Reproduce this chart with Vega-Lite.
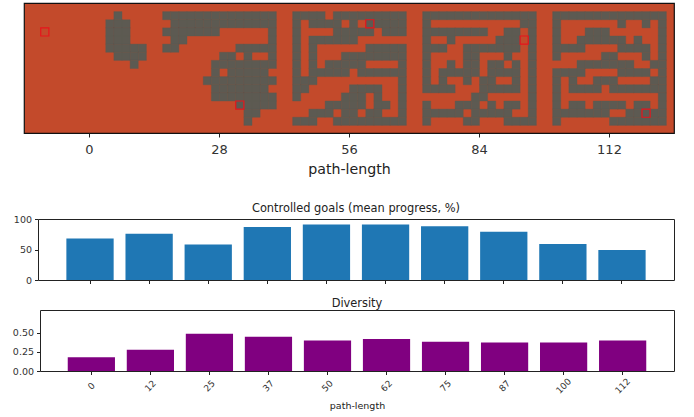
{"$schema":"https://vega.github.io/schema/vega-lite/v6.json","background":"white","padding":{"left":12,"top":2,"right":21,"bottom":4},"autosize":{"type":"pad"},
"config":{"font":"DejaVu Sans","axis":{"grid":false,"domain":false,"tickColor":"#222","labelColor":"#333","titleColor":"#222","titleFontWeight":"normal","domainColor":"#222"},"view":{"stroke":"#222"},"title":{"fontWeight":"normal","color":"#222"}},
"datasets":{"walls":[
{"c":11,"r":1},{"c":17,"r":1},{"c":18,"r":1},{"c":19,"r":1},{"c":20,"r":1},{"c":21,"r":1},{"c":22,"r":1},{"c":23,"r":1},{"c":24,"r":1},{"c":25,"r":1},{"c":26,"r":1},{"c":27,"r":1},{"c":28,"r":1},{"c":29,"r":1},{"c":30,"r":1},{"c":33,"r":1},{"c":34,"r":1},{"c":35,"r":1},{"c":36,"r":1},{"c":38,"r":1},{"c":39,"r":1},{"c":40,"r":1},{"c":41,"r":1},{"c":42,"r":1},{"c":43,"r":1},{"c":44,"r":1},{"c":45,"r":1},{"c":46,"r":1},{"c":49,"r":1},{"c":50,"r":1},{"c":51,"r":1},{"c":52,"r":1},{"c":53,"r":1},{"c":54,"r":1},{"c":55,"r":1},{"c":56,"r":1},{"c":57,"r":1},{"c":58,"r":1},{"c":59,"r":1},{"c":60,"r":1},{"c":61,"r":1},{"c":62,"r":1},{"c":65,"r":1},{"c":66,"r":1},{"c":67,"r":1},{"c":68,"r":1},{"c":69,"r":1},{"c":70,"r":1},{"c":71,"r":1},{"c":72,"r":1},{"c":73,"r":1},{"c":74,"r":1},{"c":75,"r":1},{"c":76,"r":1},{"c":77,"r":1},{"c":78,"r":1},
{"c":10,"r":2},{"c":11,"r":2},{"c":12,"r":2},{"c":18,"r":2},{"c":19,"r":2},{"c":20,"r":2},{"c":21,"r":2},{"c":22,"r":2},{"c":23,"r":2},{"c":24,"r":2},{"c":25,"r":2},{"c":26,"r":2},{"c":27,"r":2},{"c":28,"r":2},{"c":29,"r":2},{"c":30,"r":2},{"c":33,"r":2},{"c":35,"r":2},{"c":36,"r":2},{"c":37,"r":2},{"c":38,"r":2},{"c":40,"r":2},{"c":42,"r":2},{"c":43,"r":2},{"c":44,"r":2},{"c":45,"r":2},{"c":46,"r":2},{"c":49,"r":2},{"c":61,"r":2},{"c":62,"r":2},{"c":65,"r":2},{"c":73,"r":2},{"c":76,"r":2},{"c":78,"r":2},
{"c":10,"r":3},{"c":11,"r":3},{"c":12,"r":3},{"c":17,"r":3},{"c":18,"r":3},{"c":19,"r":3},{"c":20,"r":3},{"c":21,"r":3},{"c":22,"r":3},{"c":23,"r":3},{"c":30,"r":3},{"c":33,"r":3},{"c":38,"r":3},{"c":39,"r":3},{"c":40,"r":3},{"c":41,"r":3},{"c":42,"r":3},{"c":44,"r":3},{"c":45,"r":3},{"c":46,"r":3},{"c":49,"r":3},{"c":50,"r":3},{"c":51,"r":3},{"c":52,"r":3},{"c":53,"r":3},{"c":54,"r":3},{"c":55,"r":3},{"c":56,"r":3},{"c":59,"r":3},{"c":60,"r":3},{"c":62,"r":3},{"c":65,"r":3},{"c":69,"r":3},{"c":70,"r":3},{"c":71,"r":3},{"c":78,"r":3},
{"c":10,"r":4},{"c":11,"r":4},{"c":12,"r":4},{"c":18,"r":4},{"c":19,"r":4},{"c":30,"r":4},{"c":33,"r":4},{"c":35,"r":4},{"c":36,"r":4},{"c":37,"r":4},{"c":38,"r":4},{"c":39,"r":4},{"c":40,"r":4},{"c":49,"r":4},{"c":52,"r":4},{"c":58,"r":4},{"c":59,"r":4},{"c":60,"r":4},{"c":62,"r":4},{"c":65,"r":4},{"c":68,"r":4},{"c":69,"r":4},{"c":70,"r":4},{"c":71,"r":4},{"c":72,"r":4},{"c":73,"r":4},{"c":75,"r":4},{"c":78,"r":4},
{"c":10,"r":5},{"c":11,"r":5},{"c":12,"r":5},{"c":13,"r":5},{"c":14,"r":5},{"c":17,"r":5},{"c":18,"r":5},{"c":26,"r":5},{"c":27,"r":5},{"c":28,"r":5},{"c":29,"r":5},{"c":30,"r":5},{"c":33,"r":5},{"c":35,"r":5},{"c":42,"r":5},{"c":43,"r":5},{"c":44,"r":5},{"c":45,"r":5},{"c":46,"r":5},{"c":49,"r":5},{"c":50,"r":5},{"c":51,"r":5},{"c":54,"r":5},{"c":55,"r":5},{"c":56,"r":5},{"c":57,"r":5},{"c":58,"r":5},{"c":59,"r":5},{"c":60,"r":5},{"c":62,"r":5},{"c":65,"r":5},{"c":66,"r":5},{"c":67,"r":5},{"c":68,"r":5},{"c":73,"r":5},{"c":74,"r":5},{"c":75,"r":5},{"c":76,"r":5},{"c":78,"r":5},
{"c":11,"r":6},{"c":12,"r":6},{"c":13,"r":6},{"c":14,"r":6},{"c":24,"r":6},{"c":25,"r":6},{"c":27,"r":6},{"c":30,"r":6},{"c":33,"r":6},{"c":35,"r":6},{"c":39,"r":6},{"c":40,"r":6},{"c":41,"r":6},{"c":42,"r":6},{"c":43,"r":6},{"c":44,"r":6},{"c":45,"r":6},{"c":46,"r":6},{"c":49,"r":6},{"c":54,"r":6},{"c":55,"r":6},{"c":59,"r":6},{"c":62,"r":6},{"c":65,"r":6},{"c":71,"r":6},{"c":72,"r":6},{"c":76,"r":6},{"c":78,"r":6},
{"c":13,"r":7},{"c":23,"r":7},{"c":24,"r":7},{"c":25,"r":7},{"c":26,"r":7},{"c":27,"r":7},{"c":28,"r":7},{"c":29,"r":7},{"c":30,"r":7},{"c":33,"r":7},{"c":35,"r":7},{"c":37,"r":7},{"c":38,"r":7},{"c":39,"r":7},{"c":40,"r":7},{"c":41,"r":7},{"c":46,"r":7},{"c":49,"r":7},{"c":52,"r":7},{"c":54,"r":7},{"c":55,"r":7},{"c":57,"r":7},{"c":58,"r":7},{"c":60,"r":7},{"c":62,"r":7},{"c":68,"r":7},{"c":69,"r":7},{"c":70,"r":7},{"c":71,"r":7},{"c":72,"r":7},{"c":73,"r":7},{"c":74,"r":7},{"c":77,"r":7},{"c":78,"r":7},
{"c":23,"r":8},{"c":25,"r":8},{"c":26,"r":8},{"c":27,"r":8},{"c":28,"r":8},{"c":29,"r":8},{"c":33,"r":8},{"c":35,"r":8},{"c":36,"r":8},{"c":37,"r":8},{"c":38,"r":8},{"c":39,"r":8},{"c":41,"r":8},{"c":42,"r":8},{"c":43,"r":8},{"c":44,"r":8},{"c":45,"r":8},{"c":46,"r":8},{"c":49,"r":8},{"c":51,"r":8},{"c":52,"r":8},{"c":53,"r":8},{"c":54,"r":8},{"c":55,"r":8},{"c":57,"r":8},{"c":58,"r":8},{"c":59,"r":8},{"c":60,"r":8},{"c":62,"r":8},{"c":65,"r":8},{"c":66,"r":8},{"c":67,"r":8},{"c":68,"r":8},{"c":73,"r":8},{"c":74,"r":8},{"c":75,"r":8},{"c":76,"r":8},{"c":78,"r":8},
{"c":22,"r":9},{"c":23,"r":9},{"c":24,"r":9},{"c":25,"r":9},{"c":26,"r":9},{"c":27,"r":9},{"c":28,"r":9},{"c":29,"r":9},{"c":30,"r":9},{"c":33,"r":9},{"c":34,"r":9},{"c":35,"r":9},{"c":46,"r":9},{"c":49,"r":9},{"c":51,"r":9},{"c":54,"r":9},{"c":56,"r":9},{"c":57,"r":9},{"c":60,"r":9},{"c":62,"r":9},{"c":65,"r":9},{"c":67,"r":9},{"c":70,"r":9},{"c":71,"r":9},{"c":72,"r":9},{"c":77,"r":9},{"c":78,"r":9},
{"c":23,"r":10},{"c":24,"r":10},{"c":25,"r":10},{"c":26,"r":10},{"c":27,"r":10},{"c":28,"r":10},{"c":29,"r":10},{"c":33,"r":10},{"c":34,"r":10},{"c":40,"r":10},{"c":41,"r":10},{"c":42,"r":10},{"c":43,"r":10},{"c":46,"r":10},{"c":49,"r":10},{"c":50,"r":10},{"c":51,"r":10},{"c":52,"r":10},{"c":56,"r":10},{"c":57,"r":10},{"c":58,"r":10},{"c":59,"r":10},{"c":60,"r":10},{"c":62,"r":10},{"c":65,"r":10},{"c":67,"r":10},{"c":68,"r":10},{"c":69,"r":10},{"c":70,"r":10},{"c":72,"r":10},{"c":73,"r":10},{"c":74,"r":10},{"c":75,"r":10},{"c":76,"r":10},{"c":77,"r":10},{"c":78,"r":10},
{"c":23,"r":11},{"c":24,"r":11},{"c":25,"r":11},{"c":26,"r":11},{"c":27,"r":11},{"c":28,"r":11},{"c":29,"r":11},{"c":30,"r":11},{"c":33,"r":11},{"c":39,"r":11},{"c":40,"r":11},{"c":41,"r":11},{"c":43,"r":11},{"c":46,"r":11},{"c":55,"r":11},{"c":56,"r":11},{"c":62,"r":11},{"c":65,"r":11},{"c":78,"r":11},
{"c":26,"r":12},{"c":27,"r":12},{"c":28,"r":12},{"c":29,"r":12},{"c":30,"r":12},{"c":37,"r":12},{"c":38,"r":12},{"c":39,"r":12},{"c":40,"r":12},{"c":41,"r":12},{"c":43,"r":12},{"c":44,"r":12},{"c":46,"r":12},{"c":49,"r":12},{"c":53,"r":12},{"c":54,"r":12},{"c":55,"r":12},{"c":57,"r":12},{"c":59,"r":12},{"c":60,"r":12},{"c":62,"r":12},{"c":65,"r":12},{"c":67,"r":12},{"c":68,"r":12},{"c":70,"r":12},{"c":71,"r":12},{"c":72,"r":12},{"c":73,"r":12},{"c":75,"r":12},{"c":76,"r":12},{"c":78,"r":12},
{"c":27,"r":13},{"c":28,"r":13},{"c":35,"r":13},{"c":36,"r":13},{"c":37,"r":13},{"c":39,"r":13},{"c":40,"r":13},{"c":42,"r":13},{"c":43,"r":13},{"c":46,"r":13},{"c":49,"r":13},{"c":50,"r":13},{"c":51,"r":13},{"c":52,"r":13},{"c":53,"r":13},{"c":55,"r":13},{"c":56,"r":13},{"c":57,"r":13},{"c":58,"r":13},{"c":59,"r":13},{"c":62,"r":13},{"c":65,"r":13},{"c":66,"r":13},{"c":67,"r":13},{"c":68,"r":13},{"c":69,"r":13},{"c":70,"r":13},{"c":71,"r":13},{"c":74,"r":13},{"c":75,"r":13},{"c":76,"r":13},{"c":77,"r":13},{"c":78,"r":13},
{"c":27,"r":14},{"c":33,"r":14},{"c":34,"r":14},{"c":35,"r":14},{"c":38,"r":14},{"c":39,"r":14},{"c":40,"r":14},{"c":41,"r":14},{"c":42,"r":14},{"c":43,"r":14},{"c":44,"r":14},{"c":45,"r":14},{"c":46,"r":14},{"c":49,"r":14},{"c":54,"r":14},{"c":55,"r":14},{"c":59,"r":14},{"c":60,"r":14},{"c":61,"r":14},{"c":62,"r":14},{"c":65,"r":14},{"c":72,"r":14},{"c":73,"r":14},{"c":74,"r":14},{"c":75,"r":14},{"c":76,"r":14},{"c":77,"r":14},{"c":78,"r":14}
],
"markers":[{"c":2,"r":3},{"c":26,"r":12},{"c":42,"r":2},{"c":61,"r":4},{"c":76,"r":13}],
"goals":[{"p":"0","v":68},{"p":"12","v":76},{"p":"25","v":58},{"p":"37","v":87},{"p":"50","v":91},{"p":"62","v":91},{"p":"75","v":88},{"p":"87","v":79},{"p":"100","v":59},{"p":"112","v":49}],
"diversity":[{"p":"0","v":0.18},{"p":"12","v":0.28},{"p":"25","v":0.49},{"p":"37","v":0.45},{"p":"50","v":0.4},{"p":"62","v":0.42},{"p":"75","v":0.385},{"p":"87","v":0.375},{"p":"100","v":0.375},{"p":"112","v":0.4}]},
"spacing":25,
"vconcat":[
{"width":650,"height":130,"view":{"fill":"#c34a2b","stroke":"#111","strokeWidth":1.2},
"layer":[
{"data":{"name":"walls"},"mark":{"type":"rect","fill":"#5d5a52","stroke":"#5d5a52","strokeWidth":0.4},"encoding":{
"x":{"field":"c","type":"quantitative","bin":{"step":1,"extent":[0,80]},"scale":{"domain":[0,80]},"axis":{"values":[8,24,40,56,72],"labelExpr":"(datum.value-8)*1.75","title":"path-length","labelFontSize":13,"titleFontSize":14.2,"tickSize":4,"labelPadding":6,"titlePadding":6,"labelFlush":false,"labelOverlap":false}},
"y":{"field":"r","type":"quantitative","bin":{"step":1,"extent":[0,16]},"scale":{"domain":[0,16],"reverse":true},"axis":null}}},
{"data":{"name":"markers"},"mark":{"type":"rect","fill":null,"stroke":"#e8151c","strokeWidth":1.2},"encoding":{
"x":{"field":"c","type":"quantitative","bin":{"step":1,"extent":[0,80]}},
"y":{"field":"r","type":"quantitative","bin":{"step":1,"extent":[0,16]}}}}
]},
{"spacing":12,"vconcat":[
{"width":650,"height":61,"view":{"stroke":null},"data":{"name":"goals"},"title":{"text":"Controlled goals (mean progress, %)","fontSize":11.4,"offset":0,"dx":7},
"resolve":{"axis":{"x":"independent","y":"independent"}},
"layer":[
{"mark":{"type":"bar","color":"#1f77b4"},
"encoding":{"x":{"field":"p","type":"nominal","sort":null,"scale":{"paddingInner":0.2,"paddingOuter":0.48,"range":[14,650]},"axis":{"title":null,"labels":false,"tickSize":3.5,"domain":true}},
"y":{"field":"v","type":"quantitative","scale":{"domain":[0,100]},"axis":{"title":null,"values":[0,50,100],"labelFontSize":9.5,"tickSize":3.5,"labelPadding":3,"offset":-14,"domain":true}}}},
{"mark":{"type":"bar","opacity":0},
"encoding":{"x":{"field":"p","type":"nominal","sort":null,"axis":{"orient":"top","title":null,"labels":false,"ticks":false,"domain":true}},
"y":{"field":"v","type":"quantitative","axis":{"orient":"right","title":null,"labels":false,"ticks":false,"domain":true}}}}
]},
{"width":650,"height":61,"view":{"stroke":null},"data":{"name":"diversity"},"title":{"text":"Diversity","fontSize":11.4,"offset":1,"dx":8},
"resolve":{"axis":{"x":"independent","y":"independent"}},
"layer":[
{"mark":{"type":"bar","color":"#800080"},
"encoding":{"x":{"field":"p","type":"nominal","sort":null,"scale":{"paddingInner":0.2,"paddingOuter":0.47,"range":[16,650]},"axis":{"title":"path-length","titleFontSize":9.5,"labelFontSize":9,"labelAngle":-45,"labelAlign":"center","labelBaseline":"middle","labelPadding":11,"tickSize":3.5,"titlePadding":5,"domain":true}},
"y":{"field":"v","type":"quantitative","scale":{"domain":[0,0.71]},"axis":{"title":null,"values":[0,0.25,0.5],"format":".2f","labelFontSize":9.5,"tickSize":3.5,"labelPadding":3,"offset":-16,"domain":true}}}},
{"mark":{"type":"bar","opacity":0},
"encoding":{"x":{"field":"p","type":"nominal","sort":null,"axis":{"orient":"top","title":null,"labels":false,"ticks":false,"domain":true}},
"y":{"field":"v","type":"quantitative","axis":{"orient":"right","title":null,"labels":false,"ticks":false,"domain":true}}}}
]}
]}
]}
